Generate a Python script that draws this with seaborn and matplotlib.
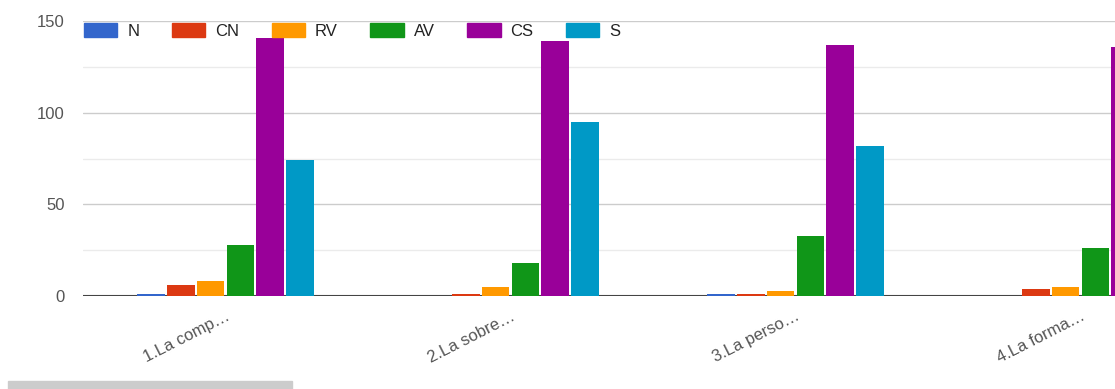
import pandas as pd
import matplotlib
matplotlib.use('Agg')
import matplotlib.pyplot as plt
import seaborn as sns
from matplotlib.patches import Rectangle

# datos
preguntas = ['1.La comp…', '2.La sobre…', '3.La perso…', '4.La forma…']
categorias = ['N', 'CN', 'RV', 'AV', 'CS', 'S']
valores = {
    'N':  [1, 0, 1, 0],
    'CN': [6, 1, 1, 4],
    'RV': [8, 5, 3, 5],
    'AV': [28, 18, 33, 26],
    'CS': [141, 139, 137, 136],
    'S':  [74, 95, 82, 80],
}
colores = ['#3366cc', '#dc3912', '#ff9900', '#109618', '#990099', '#0099c6']

filas = []
for cat in categorias:
    for p, v in zip(preguntas, valores[cat]):
        filas.append({'pregunta': p, 'categoria': cat, 'valor': v})
df = pd.DataFrame(filas)

sns.set_style('white')
plt.rcParams['font.family'] = ['Arial', 'Liberation Sans', 'DejaVu Sans']

fig = plt.figure(figsize=(11.15, 3.89), dpi=100)
ax = fig.add_axes([83 / 1115, 93 / 389, 1140 / 1115, 275 / 389])

sns.barplot(data=df, x='pregunta', y='valor', hue='categoria',
            hue_order=categorias, palette=colores, width=0.63, gap=0.07,
            linewidth=0, saturation=1, ax=ax, zorder=3)

ax.set_ylim(0, 150)
ax.set_xlim(-0.5, 3.5)
ax.set_yticks([0, 50, 100, 150])
ax.set_yticks([25, 75, 125], minor=True)
ax.grid(axis='y', which='major', color='#cccccc', lw=1)
ax.grid(axis='y', which='minor', color='#ebebeb', lw=1)
ax.set_axisbelow(True)
ax.axhline(0, color='#444444', lw=1.5, zorder=2)
for s in ax.spines.values():
    s.set_visible(False)
ax.set_xlabel('')
ax.set_ylabel('')
ax.tick_params(axis='both', which='both', length=0, colors='#555555', labelsize=12)
ax.tick_params(axis='y', pad=13)
plt.setp(ax.get_xticklabels(), rotation=27, ha='right', rotation_mode='anchor')
ax.tick_params(axis='x', pad=9)

if ax.get_legend() is not None:
    ax.get_legend().remove()
handles = [Rectangle((0, 0), 1, 1, color=c) for c in colores]
fig.legend(handles, categorias, loc='upper left', ncol=6,
           bbox_to_anchor=(69 / 1115, 1 - 8 / 389), frameon=False,
           handlelength=2.0, handleheight=0.95, handletextpad=0.6,
           columnspacing=1.95, fontsize=12, labelcolor='#222222')

fig.patches.append(Rectangle((8 / 1115, 0), 284 / 1115, 8 / 389,
                             color='#cccccc', transform=fig.transFigure))

fig.savefig('out.png', dpi=100)
